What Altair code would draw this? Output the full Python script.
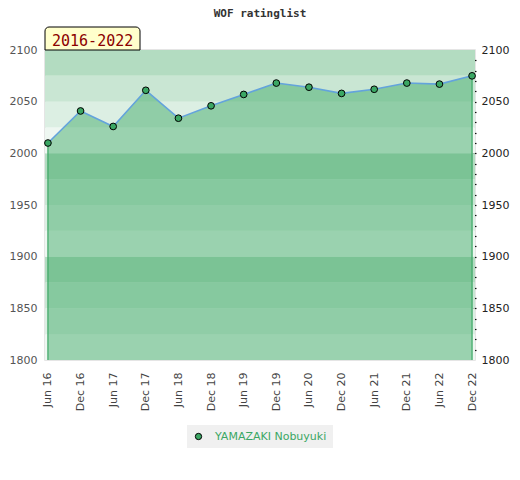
import altair as alt
import pandas as pd

labels = ["Jun 16", "Dec 16", "Jun 17", "Dec 17", "Jun 18", "Dec 18", "Jun 19",
          "Dec 19", "Jun 20", "Dec 20", "Jun 21", "Dec 21", "Jun 22", "Dec 22"]
ratings = [2010, 2041, 2026, 2061, 2034, 2046, 2057, 2068, 2064, 2058, 2062, 2068, 2067, 2075]
player = "YAMAZAKI Nobuyuki"
period = "2016-2022"

band_lo = [1800, 1825, 1850, 1875, 1900, 1925, 1950, 1975, 2000, 2025, 2050, 2075]
band_hi = [1825, 1850, 1875, 1900, 1925, 1950, 1975, 2000, 2025, 2050, 2075, 2100]
band_col = ["#eef7f1", "#dcefe3", "#c9e6d3", "#b3dcc1"] * 3

df = pd.DataFrame({"label": labels, "rating": ratings, "player": player})
bands = pd.DataFrame({"lo": band_lo, "hi": band_hi, "c": band_col})
badge = pd.DataFrame({"t": [period]})

GREEN = "#3ba764"
ydom = [1800, 2100]

xaxis = alt.Axis(labelAngle=270, ticks=False, domain=False, grid=False,
                 labelFont="DejaVu Sans", labelFontSize=11,
                 labelColor="#444444", labelPadding=12)
xenc = alt.X("label:O", sort=labels, title=None,
             scale=alt.Scale(type="point", padding=0.09), axis=xaxis)
yscale = alt.Scale(domain=ydom, zero=False, nice=False)

band_layer = alt.Chart(bands).mark_rect().encode(
    y=alt.Y("lo:Q", scale=yscale, axis=None),
    y2="hi:Q",
    fill=alt.Fill("c:N", scale=None),
)

area = alt.Chart(df).mark_area(color=GREEN, opacity=0.47).encode(
    x=xenc,
    y=alt.Y("rating:Q", scale=yscale, title=None,
            axis=alt.Axis(orient="left", values=[1800, 1850, 1900, 1950, 2000, 2050, 2100],
                          format="d", ticks=False, domain=False, grid=False,
                          labelFont="DejaVu Sans", labelFontSize=11,
                          labelColor="#555555", labelPadding=8)),
    y2=alt.datum(1800),
)

edges = alt.Chart(df).transform_filter(
    alt.FieldOneOfPredicate(field="label", oneOf=[labels[0], labels[-1]])
).mark_rule(color=GREEN, strokeWidth=1.2).encode(
    x=xenc,
    y=alt.Y("rating:Q", axis=None),
    y2=alt.datum(1800),
)

line = alt.Chart(df).mark_line(color="#63a3dc", strokeWidth=1.6).encode(
    x=xenc,
    y=alt.Y("rating:Q", axis=None),
)

points = alt.Chart(df).mark_point(filled=True, size=45, stroke="black",
                                  strokeWidth=1, opacity=1).encode(
    x=xenc,
    y=alt.Y("rating:Q", title=None,
            axis=alt.Axis(orient="right", values=list(range(1800, 2101, 10)),
                          format="d",
                          labelExpr="datum.value % 50 == 0 ? datum.label : ''",
                          labelOverlap=False, domain=False, grid=False,
                          tickSize=4, tickColor="#111111", tickWidth=1.2, offset=-3,
                          tickOpacity={"condition": {"test": "datum.value == 1800 || datum.value == 2100", "value": 0}, "value": 1},
                          labelFont="DejaVu Sans", labelFontSize=11,
                          labelColor="#222222", labelPadding=5)),
    color=alt.Color("player:N", scale=alt.Scale(domain=[player], range=[GREEN]),
                    legend=alt.Legend(title=None, orient="none", legendX=142, legendY=375,
                                      fillColor="#f0f0f0", padding=6,
                                      symbolType="circle", symbolSize=40,
                                      symbolStrokeColor="black", symbolStrokeWidth=1,
                                      symbolFillColor=GREEN,
                                      labelFont="DejaVu Sans", labelFontSize=11,
                                      labelColor=GREEN, labelOffset=11)),
)

badge_box = alt.Chart(badge).mark_rect(
    fill="#ffffcc", stroke="black", strokeWidth=1,
    cornerRadiusTopLeft=4, cornerRadiusTopRight=4,
).encode(x=alt.value(0), x2=alt.value(95), y=alt.value(-23), y2=alt.value(0))

badge_text = alt.Chart(badge).mark_text(
    font="DejaVu Sans Mono", fontSize=15, color="#8b0000", align="left",
    baseline="alphabetic",
).encode(x=alt.value(7), y=alt.value(-4), text="t:N")

chart = alt.layer(band_layer, area, edges, line, points, badge_box, badge_text).resolve_axis(
    y="independent"
).properties(
    width=430, height=310,
    title=alt.TitleParams("WOF ratinglist", font="DejaVu Sans Mono", fontSize=11,
                          fontWeight="bold", color="#333333", anchor="middle", offset=8),
    autosize=alt.AutoSizeParams(type="none"),
    padding={"left": 37, "top": 42, "right": 35, "bottom": 100},
).configure_view(stroke="#dddddd", strokeWidth=1.5)

chart.save("out.html", embed_options={"renderer": "svg", "actions": False})
